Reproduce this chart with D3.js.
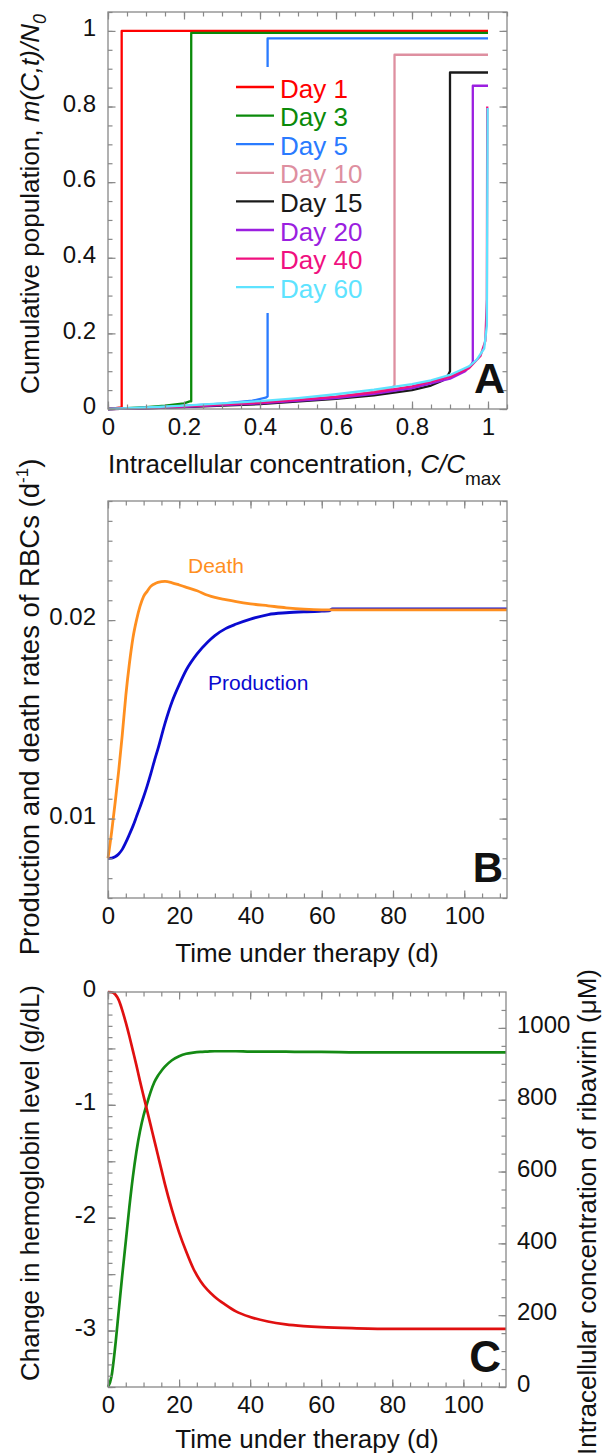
<!DOCTYPE html>
<html>
<head>
<meta charset="utf-8">
<script src="https://cdn.jsdelivr.net/npm/d3@7"></script>
<style>
body { margin: 0; background: #fff; }
text { font-family: "Liberation Sans", Arial, sans-serif; }
</style>
</head>
<body>
<svg width="603" height="1454"></svg>
<script>
// ---- panel A: cumulative population m(C,t)/N0 vs C/Cmax, [C, m] pairs per day
var dayLabels = ["Day 1", "Day 3", "Day 5", "Day 10", "Day 15", "Day 20", "Day 40", "Day 60"];
var dayColors = ["#ff0000", "#0a8a0a", "#2a7bff", "#de8fa0", "#1a1a1a", "#9b1fe0", "#f0107f", "#5ee3ff"];
var day1 = [[0, 0], [0.02, 0.002], [0.034, 0.004], [0.036, 0.004], [0.036, 1.0], [1, 1.0]];
var day3 = [[0, 0], [0.05, 0.002], [0.1, 0.005], [0.15, 0.009], [0.2, 0.015], [0.215, 0.02], [0.219, 0.02], [0.219, 0.995], [1, 0.995]];
var day5 = [[0, 0], [0.1, 0.003], [0.2, 0.008], [0.3, 0.014], [0.38, 0.022], [0.415, 0.03], [0.42, 0.033], [0.42, 0.98], [1, 0.98]];
var day10 = [[0, 0], [0.1, 0.002], [0.2, 0.006], [0.3, 0.01], [0.4, 0.016], [0.5, 0.023], [0.6, 0.033], [0.7, 0.045], [0.745, 0.055], [0.754, 0.062], [0.754, 0.937], [1, 0.937]];
var day15 = [[0, 0], [0.1, 0.002], [0.2, 0.005], [0.4, 0.013], [0.6, 0.027], [0.7, 0.036], [0.8, 0.05], [0.85, 0.062], [0.88, 0.075], [0.895, 0.09], [0.9, 0.1], [0.9, 0.89], [1, 0.89]];
var day20 = [[0, 0], [0.1, 0.002], [0.2, 0.006], [0.4, 0.015], [0.6, 0.029], [0.7, 0.04], [0.8, 0.055], [0.9, 0.08], [0.94, 0.1], [0.955, 0.115], [0.96, 0.125], [0.96, 0.855], [1, 0.855]];
var day40 = [[0, 0], [0.1, 0.003], [0.2, 0.007], [0.4, 0.017], [0.6, 0.032], [0.7, 0.044], [0.8, 0.06], [0.9, 0.085], [0.95, 0.108], [0.98, 0.14], [0.993, 0.18], [0.997, 0.29], [0.998, 0.8]];
var day60 = [[0, 0], [0.1, 0.004], [0.2, 0.009], [0.3, 0.015], [0.4, 0.021], [0.5, 0.029], [0.6, 0.039], [0.7, 0.051], [0.8, 0.066], [0.85, 0.076], [0.9, 0.09], [0.95, 0.113], [0.97, 0.13], [0.99, 0.16], [0.997, 0.22], [0.999, 0.796]];
var dayCurves = [day1, day3, day5, day10, day15, day20, day40, day60];
var ticksA = [0, 0.2, 0.4, 0.6, 0.8, 1];

// ---- panel B: production and death rates of RBCs (per day)
var timeB = [0, 1, 2, 3, 4, 5, 6, 7, 8, 9, 10, 11, 12, 13, 14, 16, 18, 20, 22, 25, 28, 30, 33, 36, 40, 45, 50, 55, 60, 62, 63, 70, 80, 90, 100, 112];
var deathRate = [0.0080, 0.0093, 0.0108, 0.0124, 0.0142, 0.0162, 0.0178, 0.0191, 0.0200, 0.0207, 0.0212, 0.02145, 0.0217, 0.02182, 0.0219, 0.02195, 0.02188, 0.02177, 0.02165, 0.02148, 0.02125, 0.02114, 0.02103, 0.02093, 0.02082, 0.02072, 0.02062, 0.02055, 0.02052, 0.02052, 0.02052, 0.02052, 0.02052, 0.02052, 0.02052, 0.02052];
var productionRate = [0.0080, 0.00801, 0.00808, 0.00822, 0.00845, 0.0088, 0.0092, 0.00962, 0.0101, 0.01059, 0.0111, 0.01165, 0.01225, 0.0129, 0.0135, 0.0148, 0.0159, 0.01675, 0.0175, 0.0183, 0.0189, 0.01922, 0.01957, 0.0198, 0.02005, 0.02028, 0.02037, 0.02042, 0.02045, 0.02046, 0.02057, 0.02057, 0.02057, 0.02057, 0.02057, 0.02057];
var ticksTime = [0, 20, 40, 60, 80, 100];
var ticksB = [0.01, 0.02];

// ---- panel C: hemoglobin change (left) and ribavirin concentration (right)
var timeC = [0, 1, 2, 3, 4, 5, 6, 7, 8, 9, 10, 11, 12, 13, 14, 15, 16, 18, 20, 22, 24, 26, 28, 30, 33, 36, 40, 45, 50, 55, 60, 70, 80, 90, 100, 112];
var hbChange = [0, -0.002, -0.02, -0.07, -0.16, -0.27, -0.39, -0.52, -0.65, -0.79, -0.92, -1.05, -1.18, -1.31, -1.44, -1.57, -1.70, -1.93, -2.13, -2.30, -2.45, -2.56, -2.64, -2.70, -2.77, -2.83, -2.88, -2.92, -2.945, -2.96, -2.97, -2.98, -2.985, -2.985, -2.985, -2.985];
var ribavirin = [0, 30, 110, 210, 310, 405, 500, 585, 656, 712, 756, 790, 822, 848, 866, 880, 892, 910, 921, 928, 931, 933, 934, 935, 935, 935, 934, 934, 934, 933, 933, 932, 932, 932, 932, 932];
var ticksHb = [0, -1, -2, -3];
var ticksRiba = [0, 200, 400, 600, 800, 1000];

var svg = d3.select("svg");
var frameColor = "#888", inkColor = "#111";

// draw one side of a frame: short inward minor ticks, longer major ticks with labels
function side(axisFn, scale, shift, minor, major, labels, pad) {
    var tr = (axisFn === d3.axisBottom || axisFn === d3.axisTop) ? "translate(0," + shift + ")" : "translate(" + shift + ",0)";
    var g1 = svg.append("g").attr("transform", tr)
        .call(axisFn(scale).tickValues(minor).tickSize(-4.5).tickFormat(""));
    g1.select(".domain").remove();
    g1.selectAll("line").attr("stroke", frameColor).attr("stroke-width", 1.2);
    var g2 = svg.append("g").attr("transform", tr)
        .call(axisFn(scale).tickValues(major).tickSize(-7.5).tickPadding(pad || 0)
            .tickFormat(labels ? function (d) { return String(d); } : ""));
    g2.select(".domain").remove();
    g2.selectAll("line").attr("stroke", frameColor).attr("stroke-width", 1.2);
    g2.selectAll("text").attr("font-size", 24).attr("fill", inkColor)
        .attr("font-family", "'Liberation Sans', Arial, sans-serif");
    if (axisFn === d3.axisLeft || axisFn === d3.axisRight) g2.selectAll("text").attr("dy", "0.2em");
}

function box(x, y) {
    svg.append("rect")
        .attr("x", x.range()[0]).attr("y", y.range()[1])
        .attr("width", x.range()[1] - x.range()[0]).attr("height", y.range()[0] - y.range()[1])
        .attr("fill", "none").attr("stroke", frameColor).attr("stroke-width", 1.3);
}

// ================= panel A =================
var xA = d3.scaleLinear().domain([0, 1.05]).range([108, 507]);
var yA = d3.scaleLinear().domain([0, 1.05]).range([409, 12]);
var minorA = d3.range(0, 1.051, 0.05);

var lineA = d3.line().x(function (d) { return xA(d[0]); }).y(function (d) { return yA(d[1]); });
dayCurves.forEach(function (c, i) {
    svg.append("path").datum(c)
        .attr("fill", "none").attr("stroke", dayColors[i]).attr("stroke-width", 2.3)
        .attr("stroke-linejoin", "round").attr("d", lineA);
});

// legend sits on a white panel that hides part of the Day 5 step
svg.append("rect").attr("x", 228).attr("y", 67).attr("width", 142).attr("height", 246).attr("fill", "#fff");
var legend = svg.append("g").attr("transform", "translate(236,87)");
dayLabels.forEach(function (lab, i) {
    legend.append("line").attr("x1", 0).attr("x2", 38).attr("y1", i * 28.6).attr("y2", i * 28.6)
        .attr("stroke", dayColors[i]).attr("stroke-width", 2.3);
    legend.append("text").attr("x", 44).attr("y", i * 28.6 + 10.5)
        .attr("font-size", 26).attr("fill", dayColors[i]).text(lab);
});

box(xA, yA);
side(d3.axisBottom, xA, 409, minorA, ticksA, true, 9);
side(d3.axisTop, xA, 12, minorA, ticksA, false);
side(d3.axisLeft, yA, 108, minorA, ticksA, true, 12);
side(d3.axisRight, yA, 507, minorA, ticksA, false);

var tA = svg.append("text").attr("x", 108).attr("y", 473).attr("font-size", 26).attr("fill", inkColor);
tA.append("tspan").text("Intracellular concentration, ");
tA.append("tspan").attr("font-style", "italic").text("C/C");
tA.append("tspan").attr("font-size", 19).attr("dy", 12).text("max");

var yTitleA = svg.append("text").attr("transform", "translate(38.5,204) rotate(-90)")
    .attr("text-anchor", "middle").attr("font-size", 26).attr("fill", inkColor);
yTitleA.append("tspan").text("Cumulative population, ");
yTitleA.append("tspan").attr("font-style", "italic").text("m(C,t)/N");
yTitleA.append("tspan").attr("font-style", "italic").attr("font-size", 18).attr("dy", 7).text("0");

svg.append("text").attr("x", 505).attr("y", 393).attr("text-anchor", "end")
    .attr("font-size", 43).attr("font-weight", "bold").attr("fill", inkColor).text("A");

// ================= panel B =================
var xB = d3.scaleLinear().domain([0, 112]).range([108, 507]);
var yB = d3.scaleLinear().domain([0.006, 0.026]).range([898, 501]);
var minorTime = d3.range(0, 112, 5);
var minorB = d3.range(0.006, 0.02601, 0.001);

var lineB = function (vals) {
    return d3.line().curve(d3.curveMonotoneX)
        .x(function (d, i) { return xB(timeB[i]); })
        .y(function (d) { return yB(d); })(vals);
};
svg.append("path").attr("fill", "none").attr("stroke", "#0a0ad0").attr("stroke-width", 2.8)
    .attr("d", lineB(productionRate));
svg.append("path").attr("fill", "none").attr("stroke", "#ff8f1f").attr("stroke-width", 2.8)
    .attr("d", lineB(deathRate));

svg.append("text").attr("x", 188).attr("y", 573).attr("font-size", 21).attr("fill", "#ff8f1f").text("Death");
svg.append("text").attr("x", 208).attr("y", 690).attr("font-size", 21).attr("fill", "#0a0ad0").text("Production");

box(xB, yB);
side(d3.axisBottom, xB, 898, minorTime, ticksTime, true, 9);
side(d3.axisTop, xB, 501, minorTime, ticksTime, false);
side(d3.axisLeft, yB, 108, minorB, ticksB, true, 12);
side(d3.axisRight, yB, 507, minorB, ticksB, false);

svg.append("text").attr("x", 307).attr("y", 962).attr("text-anchor", "middle")
    .attr("font-size", 26).attr("fill", inkColor).text("Time under therapy (d)");

var yTitleB = svg.append("text").attr("transform", "translate(38.5,707) rotate(-90)")
    .attr("text-anchor", "middle").attr("font-size", 27.5).attr("fill", inkColor);
yTitleB.append("tspan").text("Production and death rates of RBCs (d");
yTitleB.append("tspan").attr("font-size", 17).attr("dy", -11).text("-1");
yTitleB.append("tspan").attr("dy", 11).text(")");

svg.append("text").attr("x", 503).attr("y", 882).attr("text-anchor", "end")
    .attr("font-size", 42).attr("font-weight", "bold").attr("fill", inkColor).text("B");

// ================= panel C =================
var xC = d3.scaleLinear().domain([0, 112]).range([108, 506]);
var yC = d3.scaleLinear().domain([-3.5, 0]).range([1387, 992]);
var rC = d3.scaleLinear().domain([0, 1100]).range([1387, 992]);
var minorHb = d3.range(-3.5, 0.001, 0.1);
var majorHb = d3.range(-3.5, 0.001, 0.5);
var minorRiba = d3.range(0, 1100, 50);

svg.append("path").datum(ribavirin)
    .attr("fill", "none").attr("stroke", "#148a14").attr("stroke-width", 2.7)
    .attr("d", d3.line().curve(d3.curveMonotoneX)
        .x(function (d, i) { return xC(timeC[i]); }).y(function (d) { return rC(d); }));
svg.append("path").datum(hbChange)
    .attr("fill", "none").attr("stroke", "#e01010").attr("stroke-width", 2.7)
    .attr("d", d3.line().curve(d3.curveMonotoneX)
        .x(function (d, i) { return xC(timeC[i]); }).y(function (d) { return yC(d); }));

box(xC, yC);
side(d3.axisBottom, xC, 1387, minorTime, ticksTime, true, 9);
side(d3.axisTop, xC, 992, minorTime, ticksTime, false);
side(d3.axisLeft, yC, 108, minorHb, majorHb, false);
side(d3.axisLeft, yC, 108, [], ticksHb, true, 12);
side(d3.axisRight, rC, 506, minorRiba, ticksRiba, true, 11);

svg.append("text").attr("x", 307).attr("y", 1448).attr("text-anchor", "middle")
    .attr("font-size", 26).attr("fill", inkColor).text("Time under therapy (d)");

svg.append("text").attr("transform", "translate(38.5,1183) rotate(-90)")
    .attr("text-anchor", "middle").attr("font-size", 26).attr("fill", inkColor)
    .text("Change in hemoglobin level (g/dL)");
svg.append("text").attr("transform", "translate(596,1212) rotate(-90)")
    .attr("text-anchor", "middle").attr("font-size", 26).attr("fill", inkColor)
    .text("Intracellular concentration of ribavirin (\u03bcM)");

svg.append("text").attr("x", 501).attr("y", 1372).attr("text-anchor", "end")
    .attr("font-size", 44).attr("font-weight", "bold").attr("fill", inkColor).text("C");
</script>
</body>
</html>
